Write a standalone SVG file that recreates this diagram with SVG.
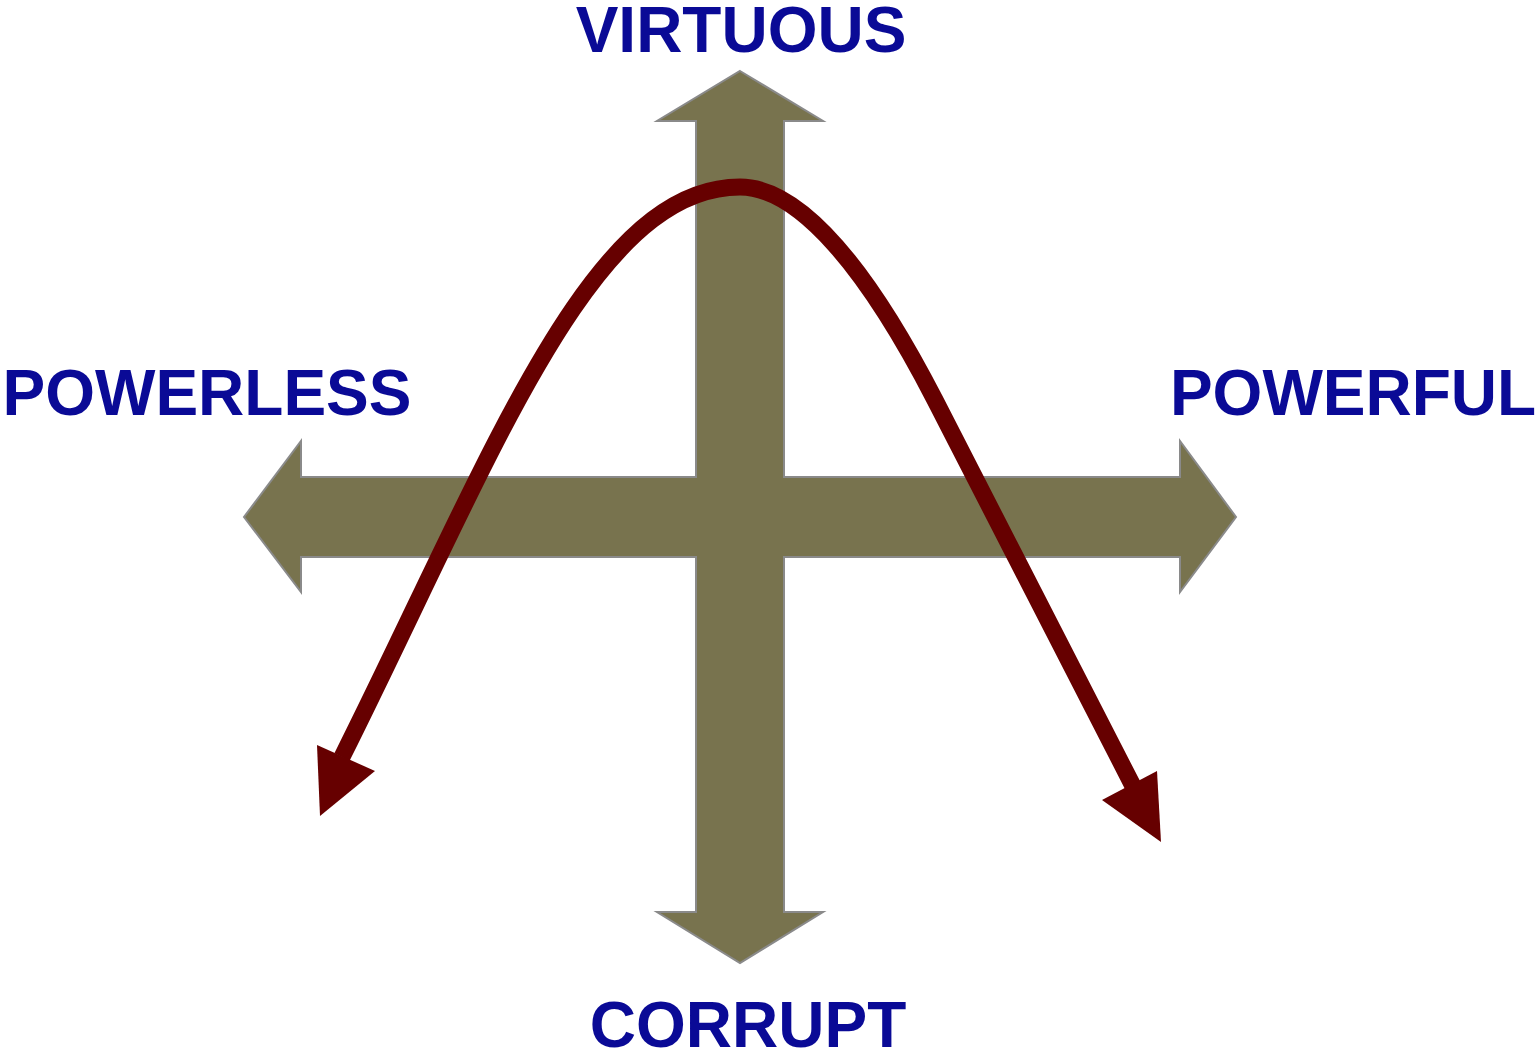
<svg xmlns="http://www.w3.org/2000/svg" width="1537" height="1057" viewBox="0 0 1537 1057">
<style>
.lbl{font-family:"Liberation Sans",Arial,sans-serif;font-weight:bold;font-size:64px;fill:#0a0a96}
.axis{fill:#78734e;stroke:#8a8a8a;stroke-width:2;stroke-linejoin:miter}
.curve{fill:none;stroke:#660000;stroke-width:17}
.head{fill:#660000}
</style>
<rect width="1537" height="1057" fill="#ffffff"/>
<g id="axes">
<polygon class="axis" points="740,71 823,121 784,121 784,477 1180,477 1180,441 1236,517 1180,592 1180,557 784,557 784,912 823,912 740,963 657,912 696,912 696,557 301,557 301,592 244,517 301,441 301,477 696,477 696,121 657,121"/>
</g>
<g id="connectors">
<path class="curve" d="M 342 757 C 492 457, 590 187, 740 187 C 800 187, 868 270, 935 400 L 1133 786"/>
<polygon class="head" points="317,745 375,771 320,816"/>
<polygon class="head" points="1102,800 1157,771 1161,842"/>
</g>
<g id="virtuous"><text class="lbl" x="741" y="52" text-anchor="middle">VIRTUOUS</text></g>
<g id="powerless"><text class="lbl" x="207" y="415" text-anchor="middle">POWERLESS</text></g>
<g id="powerful"><text class="lbl" x="1353" y="415" text-anchor="middle">POWERFUL</text></g>
<g id="corrupt"><text class="lbl" x="748" y="1047" text-anchor="middle">CORRUPT</text></g>
</svg>
